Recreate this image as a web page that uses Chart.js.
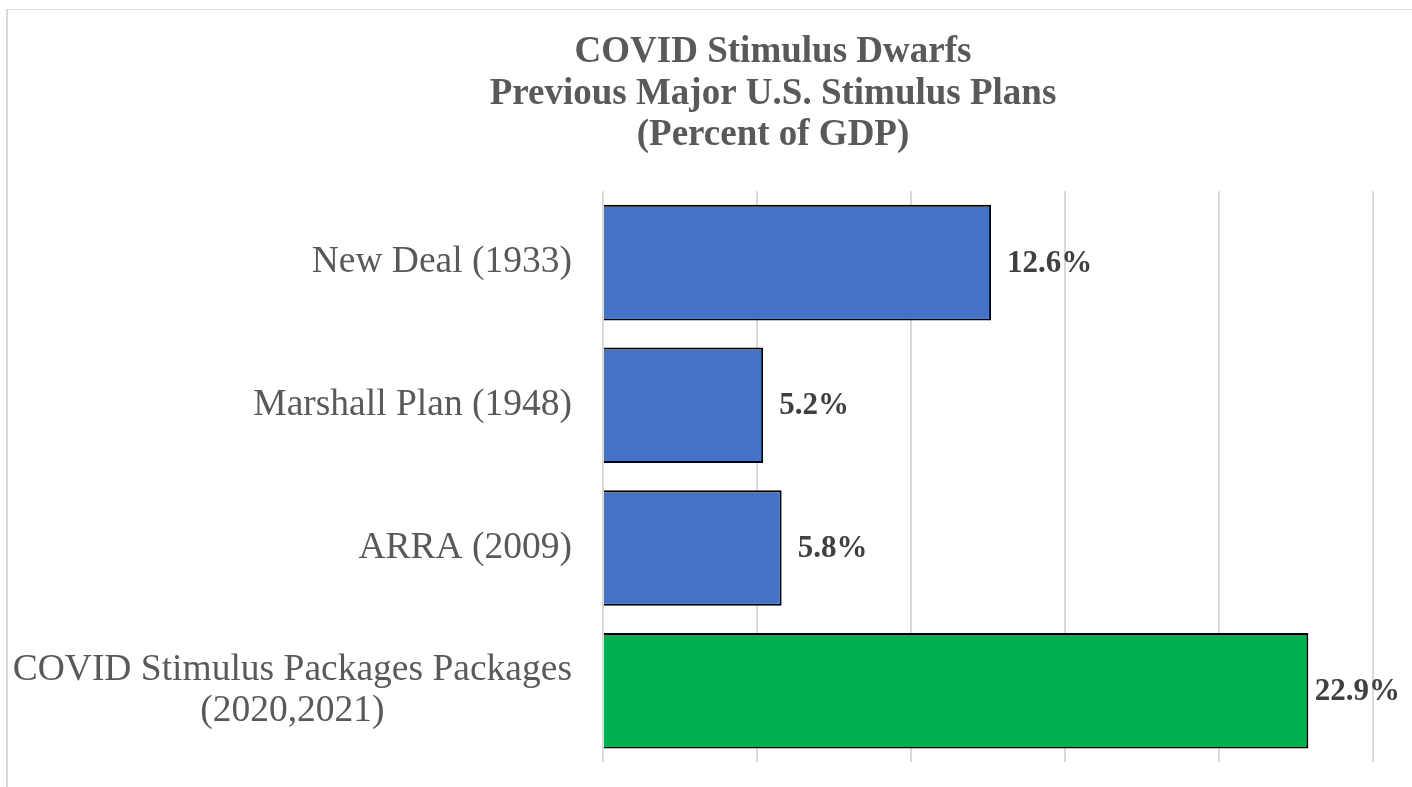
<!DOCTYPE html>
<html>
<head>
<meta charset="utf-8">
<script src="https://cdn.jsdelivr.net/npm/chart.js@4"></script>
<style>
    html, body { margin: 0; padding: 0; background: #fff; overflow: hidden; }
    #wrap { position: relative; width: 1412px; height: 787px; }
    #marco { position: absolute; left: 6px; top: 9px; right: -10px; bottom: -10px;
        border-top: 1px solid #d9d9d9; border-left: 2px solid #d9d9d9; pointer-events: none; }
</style>
</head>
<body>
<div id="wrap">
    <canvas id="grafico" width="1412" height="787"></canvas>
    <div id="marco"></div>
</div>
<script>
let planos = [['New Deal (1933)'], ['Marshall Plan (1948)'], ['ARRA (2009)'], ['COVID Stimulus Packages Packages', '(2020,2021)']]
let percentual = [12.6, 5.2, 5.8, 22.9]
let cores = ['#4472C4', '#4472C4', '#4472C4', '#00B050']
let titulo = ['COVID Stimulus Dwarfs', 'Previous Major U.S. Stimulus Plans', '(Percent of GDP)']

// rotulos do eixo y: bloco alinhado a direita, linhas centralizadas entre si
let rotulosY = {
    id: 'rotulosY',
    afterDraw(chart) {
        let ctx = chart.ctx
        let y = chart.scales.y
        ctx.save()
        ctx.font = '37.5px "Liberation Serif", "Times New Roman", serif'
        ctx.fillStyle = '#595959'
        ctx.textAlign = 'center'
        ctx.textBaseline = 'middle'
        let direita = chart.chartArea.left - 31
        let alturaLinha = 37 * 1.12
        planos.forEach((linhas, i) => {
            let larg = Math.max(...linhas.map(l => ctx.measureText(l).width))
            let cx = direita - larg / 2
            let cy = y.getPixelForValue(i) - (linhas.length - 1) * alturaLinha / 2
            linhas.forEach((l, j) => ctx.fillText(l, cx, cy + j * alturaLinha))
        })
        ctx.restore()
    }
}

// valores no fim de cada barra
let valores = {
    id: 'valores',
    afterDatasetsDraw(chart) {
        let ctx = chart.ctx
        ctx.save()
        ctx.font = 'bold 31px "Liberation Serif", "Times New Roman", serif'
        ctx.fillStyle = '#404040'
        ctx.textAlign = 'left'
        ctx.textBaseline = 'middle'
        chart.getDatasetMeta(0).data.forEach((barra, i) => {
            let txt = percentual[i].toFixed(1) + '%'
            let x = Math.min(barra.x + 16, chart.width - 12 - ctx.measureText(txt).width)
            ctx.fillText(txt, x, barra.y + 1)
        })
        ctx.restore()
    }
}

let ctx = document.getElementById('grafico').getContext('2d')
new Chart(ctx, {
    type: 'bar',
    data: {
        labels: planos.map(l => l.join(' ')),
        datasets: [{
            data: percentual,
            backgroundColor: cores,
            borderColor: '#000000',
            borderWidth: 2,
            categoryPercentage: 1,
            barPercentage: 0.81
        }]
    },
    options: {
        indexAxis: 'y',
        responsive: false,
        animation: false,
        layout: { padding: { left: 173, right: 39, top: 0, bottom: 25 } },
        plugins: {
            legend: { display: false },
            tooltip: { enabled: false },
            title: {
                display: true,
                text: titulo,
                color: '#595959',
                font: { family: '"Liberation Serif", "Times New Roman", serif', size: 37, weight: 'bold', lineHeight: 1.12 },
                padding: { top: 32, bottom: 35 }
            }
        },
        scales: {
            x: {
                min: 0,
                max: 25,
                ticks: { display: false, stepSize: 5 },
                grid: { color: '#d9d9d9', lineWidth: 2, drawTicks: false },
                border: { display: false }
            },
            y: {
                ticks: { display: false },
                grid: { display: false, drawTicks: false },
                border: { display: false },
                afterFit(scale) { scale.width = 430 }
            }
        }
    },
    plugins: [rotulosY, valores]
})
</script>
</body>
</html>
